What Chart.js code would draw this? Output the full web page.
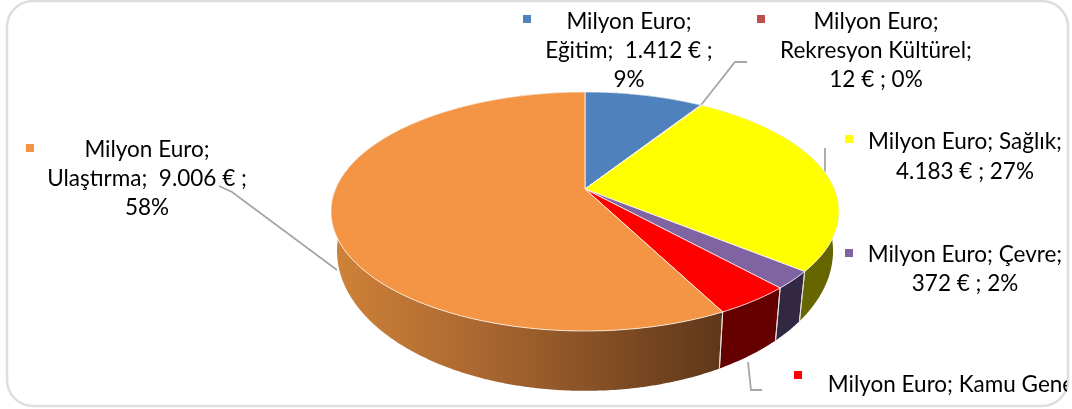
<!DOCTYPE html>
<html>
<head>
<meta charset="utf-8">
<style>
  html, body { margin: 0; padding: 0; background: #fff; }
  canvas { display: block; }
</style>
<script src="https://cdn.jsdelivr.net/npm/chart.js@4/dist/chart.umd.js"></script>
</head>
<body>
<canvas id="pie" width="1072" height="409"></canvas>
<script>
const categories = ['Eğitim', 'Rekreasyon Kültürel', 'Sağlık', 'Çevre', 'Kamu Genel', 'Ulaştırma'];
const values = [1412, 12, 4183, 372, 650, 9006];
const colors = ['#4f81bd', '#c0504d', '#ffff00', '#8064a2', '#ff0000', '#f49545'];
const wallColors = ['#2f4d71', '#732f2d', '#666600', '#322844', '#650000', null];

const labelLines = [
    ['Milyon Euro;', 'Eğitim;  1.412 € ;', '9%'],
    ['Milyon Euro;', 'Rekresyon Kültürel;', '12 € ; 0%'],
    ['Milyon Euro; Sağlık;', '4.183 € ; 27%'],
    ['Milyon Euro; Çevre;', '372 € ; 2%'],
    ['Milyon Euro; Kamu Gene'],
    ['Milyon Euro;', 'Ulaştırma;  9.006 € ;', '58%']
];

// label centre x, first baseline, line height, marker x, marker y
const labelPos = [
    [629, 29, 29, 523, 15],
    [876, 29, 29, 757, 15],
    [965, 149, 30, 845, 135],
    [965, 262, 29, 845, 249],
    [951, 392, 30, 794, 371],
    [147, 157, 29, 26, 144]
];

const leaders = [
    [[701, 105], [735, 62], [747, 62]],
    [[825, 172], [825, 148]],
    [[748, 362], [751, 390], [762, 390]],
    [[337, 270], [232, 192], [219, 186]]
];

// perspective of the pie disc, top face and lower rim
const cx = 585, tilt = 0.188;
const top3d = { cy: 189, rx: 249.5, ry: 115.3 };
const low3d = { cy: 224.6, rx: 243.6, ry: 135 };

function project(t, low) {
    const d = 1 - tilt * Math.sin(t);
    const g = low ? low3d : top3d;
    return [cx + g.rx * Math.cos(t) / d, g.cy + g.ry * Math.sin(t) / d];
}

function arcPoints(a0, a1, low) {
    const n = Math.max(2, Math.ceil(Math.abs(a1 - a0) / 0.01));
    const pts = [];
    for (let i = 0; i <= n; i++) pts.push(project(a0 + (a1 - a0) * i / n, low));
    return pts;
}

function trace(ctx, pts) {
    pts.forEach((p, i) => i ? ctx.lineTo(p[0], p[1]) : ctx.moveTo(p[0], p[1]));
}

const pie3d = {
    id: 'pie3d',
    beforeDatasetsDraw(chart) {
        const ctx = chart.ctx;
        const arcs = chart.getDatasetMeta(0).data;
        ctx.save();

        // frame
        ctx.strokeStyle = '#dedede';
        ctx.lineWidth = 2.5;
        ctx.beginPath();
        ctx.roundRect(7, 1, 1061, 405, 26);
        ctx.stroke();

        // leader lines
        ctx.strokeStyle = '#a6a6a6';
        ctx.lineWidth = 1.8;
        leaders.forEach(l => {
            ctx.beginPath();
            trace(ctx, l);
            ctx.stroke();
        });

        // side wall
        const grad = ctx.createLinearGradient(335, 0, 722, 0);
        grad.addColorStop(0, '#cf8238');
        grad.addColorStop(0.45, '#a2622e');
        grad.addColorStop(1, '#5f3719');
        arcs.forEach((arc, i) => {
            const pts = arcPoints(arc.startAngle, arc.endAngle, false)
                .concat(arcPoints(arc.endAngle, arc.startAngle, true));
            ctx.beginPath();
            trace(ctx, pts);
            ctx.closePath();
            ctx.fillStyle = wallColors[i] || grad;
            ctx.fill();
        });
        arcs.forEach(arc => {
            [arc.startAngle, arc.endAngle].forEach(a => {
                if (Math.sin(a) < 0.2) return;
                ctx.strokeStyle = '#e4e0dc';
                ctx.lineWidth = 1;
                ctx.beginPath();
                trace(ctx, [project(a, false), project(a, true)]);
                ctx.stroke();
            });
        });

        // top face
        arcs.forEach((arc, i) => {
            ctx.beginPath();
            trace(ctx, [[cx, 189]].concat(arcPoints(arc.startAngle, arc.endAngle, false)));
            ctx.closePath();
            ctx.fillStyle = colors[i];
            ctx.fill();
            ctx.strokeStyle = 'rgba(255,255,255,0.75)';
            ctx.lineWidth = 1;
            ctx.stroke();
        });

        // labels, clipped to the frame like the original
        ctx.beginPath();
        ctx.rect(0, 0, 1067, 409);
        ctx.clip();
        ctx.font = '22.5px Lato';
        ctx.textBaseline = 'alphabetic';
        labelLines.forEach((lines, i) => {
            const [x, y, lh, mx, my] = labelPos[i];
            ctx.fillStyle = colors[i];
            ctx.fillRect(mx, my, 8, 8);
            ctx.fillStyle = '#000';
            ctx.textAlign = 'center';
            lines.forEach((s, j) => ctx.fillText(s, x, y + j * lh));
        });
        ctx.restore();
        return false;
    }
};

new Chart(document.getElementById('pie'), {
    type: 'pie',
    data: {
        labels: categories,
        datasets: [{ data: values, backgroundColor: colors }]
    },
    options: {
        responsive: false,
        animation: false,
        plugins: {
            legend: { display: false },
            tooltip: { enabled: false }
        }
    },
    plugins: [pie3d]
});
</script>
</body>
</html>
